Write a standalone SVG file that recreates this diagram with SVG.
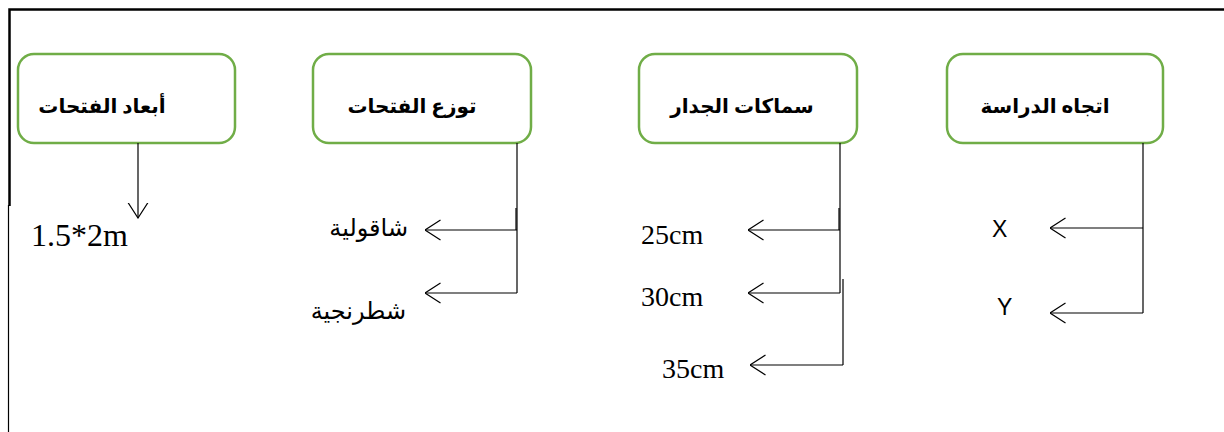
<svg xmlns="http://www.w3.org/2000/svg" width="1224" height="432" viewBox="0 0 1224 432">
  <style>
    .frame { fill: none; stroke: #000; stroke-width: 2.5; }
    .frame-thin { fill: none; stroke: #000; stroke-width: 1.2; }
    .box { fill: #fff; stroke: #70AD47; stroke-width: 2.5; }
    .title { font-family: "Liberation Serif", "DejaVu Sans", serif; font-size: 20px; font-weight: bold; fill: #000; text-anchor: middle; }
    .ar { font-family: "Liberation Sans", "DejaVu Sans", sans-serif; font-size: 24px; fill: #000; text-anchor: end; }
    .val { font-family: "Liberation Serif", serif; font-size: 28px; fill: #000; }
    .big { font-size: 32px; }
    .axis { font-family: "Liberation Sans", sans-serif; font-size: 23px; fill: #000; }
    .link { fill: none; stroke: #000; stroke-width: 1.2; }
    .arrowed { marker-end: url(#chev); }
  </style>
  <defs>
    <marker id="chev" viewBox="0 0 16 22" refX="15.5" refY="11" markerWidth="16" markerHeight="22" markerUnits="userSpaceOnUse" orient="auto">
      <path d="M0,1 L15.5,11 L0,21" fill="none" stroke="#000" stroke-width="1.2"/>
    </marker>
  </defs>

  <rect width="1224" height="432" fill="#fff"/>

  <!-- page frame -->
  <path class="frame" d="M9.5,206 L9.5,9.5 L1224,9.5"/>
  <path class="frame-thin" d="M8.5,205 L8.5,432"/>

  <!-- header nodes -->
  <g id="node-dimensions">
    <rect class="box" x="18" y="54" width="217" height="89" rx="16"/>
    <text class="title" x="102" y="113">أبعاد الفتحات</text>
  </g>
  <g id="node-distribution">
    <rect class="box" x="313" y="54" width="218" height="89" rx="16"/>
    <text class="title" x="412" y="113">توزع الفتحات</text>
  </g>
  <g id="node-thickness">
    <rect class="box" x="639" y="54" width="218" height="89" rx="16"/>
    <text class="title" x="742" y="113">سماكات الجدار</text>
  </g>
  <g id="node-direction">
    <rect class="box" x="947" y="54" width="216" height="89" rx="16"/>
    <text class="title" x="1045" y="113">اتجاه الدراسة</text>
  </g>

  <!-- leaf labels -->
  <g id="leaf-size">
    <text class="val big" x="31" y="246">1.5*2m</text>
  </g>
  <g id="leaf-vertical">
    <text class="ar" x="408" y="236">شاقولية</text>
  </g>
  <g id="leaf-staggered">
    <text class="ar" x="406" y="319">شطرنجية</text>
  </g>
  <g id="leaf-25">
    <text class="val" x="641" y="244">25cm</text>
  </g>
  <g id="leaf-30">
    <text class="val" x="641" y="306">30cm</text>
  </g>
  <g id="leaf-35">
    <text class="val" x="662" y="378">35cm</text>
  </g>
  <g id="leaf-x">
    <text class="axis" x="992" y="237">X</text>
  </g>
  <g id="leaf-y">
    <text class="axis" x="997" y="315">Y</text>
  </g>

  <!-- connectors -->
  <g id="connectors">
    <path class="link arrowed" d="M138,143 L138,218"/>

    <path class="link" d="M517,143 L517,293"/>
    <path class="link" d="M516,208 L516,230"/>
    <path class="link arrowed" d="M517,230 L425,230"/>
    <path class="link arrowed" d="M517,293 L425,293"/>

    <path class="link" d="M840,143 L840,293"/>
    <path class="link" d="M839,208 L839,230"/>
    <path class="link arrowed" d="M840,230 L748,230"/>
    <path class="link arrowed" d="M840,293 L748,293"/>
    <path class="link" d="M843,279 L843,365"/>
    <path class="link arrowed" d="M843,365 L750,365"/>

    <path class="link" d="M1143,143 L1143,313"/>
    <path class="link arrowed" d="M1143,228 L1050,228"/>
    <path class="link arrowed" d="M1143,313 L1050,313"/>
  </g>
</svg>
